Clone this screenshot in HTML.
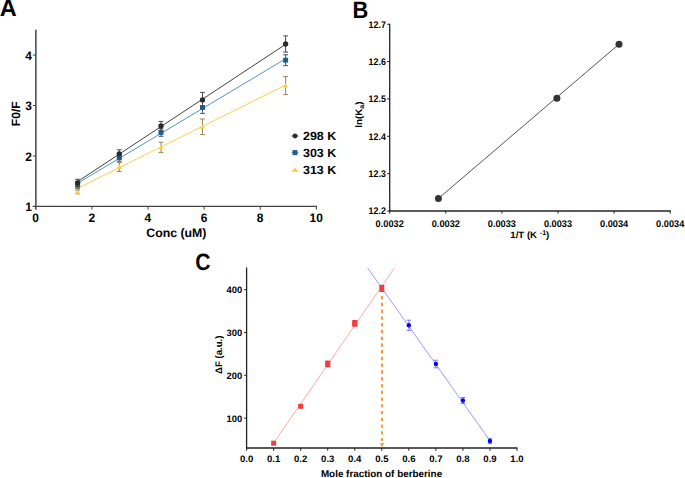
<!DOCTYPE html>
<html><head><meta charset="utf-8"><style>
html,body{margin:0;padding:0;background:#fff;}
svg{display:block;}
text{font-family:"Liberation Sans", sans-serif;text-rendering:geometricPrecision;}
</style></head><body>
<svg width="685" height="478" viewBox="0 0 685 478" font-family='"Liberation Sans", sans-serif'>
<rect width="685" height="478" fill="#fff"/>
<text transform="translate(-0.30,15.70)" font-size="23.5" text-anchor="start" font-weight="bold" fill="#000">A</text>
<line x1="35.85" y1="29.82" x2="35.85" y2="209.70" stroke="#444" stroke-width="1.5" />
<line x1="32.65" y1="206.40" x2="316.95" y2="206.40" stroke="#444" stroke-width="1.4" />
<line x1="32.85" y1="155.95" x2="35.85" y2="155.95" stroke="#444" stroke-width="1" />
<line x1="32.85" y1="105.50" x2="35.85" y2="105.50" stroke="#444" stroke-width="1" />
<line x1="32.85" y1="55.05" x2="35.85" y2="55.05" stroke="#444" stroke-width="1" />
<text transform="translate(31.80,211.10) scale(0.97,1.0)" font-size="12.3" text-anchor="end" font-weight="bold" fill="#000">1</text>
<text transform="translate(31.80,160.65) scale(0.97,1.0)" font-size="12.3" text-anchor="end" font-weight="bold" fill="#000">2</text>
<text transform="translate(31.80,110.20) scale(0.97,1.0)" font-size="12.3" text-anchor="end" font-weight="bold" fill="#000">3</text>
<text transform="translate(31.80,59.75) scale(0.97,1.0)" font-size="12.3" text-anchor="end" font-weight="bold" fill="#000">4</text>
<line x1="91.95" y1="206.40" x2="91.95" y2="209.70" stroke="#444" stroke-width="1" />
<line x1="148.05" y1="206.40" x2="148.05" y2="209.70" stroke="#444" stroke-width="1" />
<line x1="204.15" y1="206.40" x2="204.15" y2="209.70" stroke="#444" stroke-width="1" />
<line x1="260.25" y1="206.40" x2="260.25" y2="209.70" stroke="#444" stroke-width="1" />
<line x1="316.35" y1="206.40" x2="316.35" y2="209.70" stroke="#444" stroke-width="1" />
<text transform="translate(35.65,221.60) scale(0.97,1.0)" font-size="12.3" text-anchor="middle" font-weight="bold" fill="#000">0</text>
<text transform="translate(91.75,221.60) scale(0.97,1.0)" font-size="12.3" text-anchor="middle" font-weight="bold" fill="#000">2</text>
<text transform="translate(147.85,221.60) scale(0.97,1.0)" font-size="12.3" text-anchor="middle" font-weight="bold" fill="#000">4</text>
<text transform="translate(203.95,221.60) scale(0.97,1.0)" font-size="12.3" text-anchor="middle" font-weight="bold" fill="#000">6</text>
<text transform="translate(260.05,221.60) scale(0.97,1.0)" font-size="12.3" text-anchor="middle" font-weight="bold" fill="#000">8</text>
<text transform="translate(316.15,221.60) scale(0.97,1.0)" font-size="12.3" text-anchor="middle" font-weight="bold" fill="#000">10</text>
<text transform="translate(176.40,237.20)" font-size="12.3" text-anchor="middle" font-weight="bold" fill="#000">Conc (uM)</text>
<text transform="translate(19.70,113.80) rotate(-90)" font-size="12.0" text-anchor="middle" font-weight="bold" fill="#000">F0/F</text>
<line x1="77.60" y1="188.40" x2="285.60" y2="85.00" stroke="#ffcf4a" stroke-width="1" />
<line x1="77.60" y1="183.30" x2="285.60" y2="58.80" stroke="#5a91c4" stroke-width="1" />
<line x1="77.60" y1="181.60" x2="285.60" y2="44.30" stroke="#404040" stroke-width="1" />
<line x1="77.60" y1="190.20" x2="77.60" y2="193.80" stroke="#9a8656" stroke-width="1" />
<line x1="75.20" y1="190.20" x2="80.00" y2="190.20" stroke="#9a8656" stroke-width="1" />
<line x1="75.20" y1="193.80" x2="80.00" y2="193.80" stroke="#9a8656" stroke-width="1" />
<polygon points="77.60,189.60 80.30,193.70 74.90,193.70" fill="#ffcd46"/>
<line x1="77.60" y1="181.80" x2="77.60" y2="188.80" stroke="#3a5468" stroke-width="1" />
<line x1="75.20" y1="181.80" x2="80.00" y2="181.80" stroke="#3a5468" stroke-width="1" />
<line x1="75.20" y1="188.80" x2="80.00" y2="188.80" stroke="#3a5468" stroke-width="1" />
<rect x="75.10" y="182.90" width="5" height="4.8" fill="#1a5f96"/>
<line x1="77.60" y1="179.30" x2="77.60" y2="186.50" stroke="#4a4a4a" stroke-width="1" />
<line x1="75.20" y1="179.30" x2="80.00" y2="179.30" stroke="#4a4a4a" stroke-width="1" />
<line x1="75.20" y1="186.50" x2="80.00" y2="186.50" stroke="#4a4a4a" stroke-width="1" />
<circle cx="77.60" cy="182.90" r="2.65" fill="#2b2b2b"/>
<line x1="119.30" y1="162.50" x2="119.30" y2="171.50" stroke="#9a8656" stroke-width="1" />
<line x1="116.90" y1="162.50" x2="121.70" y2="162.50" stroke="#9a8656" stroke-width="1" />
<line x1="116.90" y1="171.50" x2="121.70" y2="171.50" stroke="#9a8656" stroke-width="1" />
<polygon points="119.30,164.60 122.00,168.70 116.60,168.70" fill="#ffcd46"/>
<line x1="119.30" y1="154.20" x2="119.30" y2="161.20" stroke="#3a5468" stroke-width="1" />
<line x1="116.90" y1="154.20" x2="121.70" y2="154.20" stroke="#3a5468" stroke-width="1" />
<line x1="116.90" y1="161.20" x2="121.70" y2="161.20" stroke="#3a5468" stroke-width="1" />
<rect x="116.80" y="155.30" width="5" height="4.8" fill="#1a5f96"/>
<line x1="119.30" y1="149.80" x2="119.30" y2="157.80" stroke="#4a4a4a" stroke-width="1" />
<line x1="116.90" y1="149.80" x2="121.70" y2="149.80" stroke="#4a4a4a" stroke-width="1" />
<line x1="116.90" y1="157.80" x2="121.70" y2="157.80" stroke="#4a4a4a" stroke-width="1" />
<circle cx="119.30" cy="153.80" r="2.65" fill="#2b2b2b"/>
<line x1="161.00" y1="142.20" x2="161.00" y2="152.60" stroke="#9a8656" stroke-width="1" />
<line x1="158.60" y1="142.20" x2="163.40" y2="142.20" stroke="#9a8656" stroke-width="1" />
<line x1="158.60" y1="152.60" x2="163.40" y2="152.60" stroke="#9a8656" stroke-width="1" />
<polygon points="161.00,145.00 163.70,149.10 158.30,149.10" fill="#ffcd46"/>
<line x1="161.00" y1="128.70" x2="161.00" y2="136.30" stroke="#3a5468" stroke-width="1" />
<line x1="158.60" y1="128.70" x2="163.40" y2="128.70" stroke="#3a5468" stroke-width="1" />
<line x1="158.60" y1="136.30" x2="163.40" y2="136.30" stroke="#3a5468" stroke-width="1" />
<rect x="158.50" y="130.10" width="5" height="4.8" fill="#1a5f96"/>
<line x1="161.00" y1="121.40" x2="161.00" y2="130.40" stroke="#4a4a4a" stroke-width="1" />
<line x1="158.60" y1="121.40" x2="163.40" y2="121.40" stroke="#4a4a4a" stroke-width="1" />
<line x1="158.60" y1="130.40" x2="163.40" y2="130.40" stroke="#4a4a4a" stroke-width="1" />
<circle cx="161.00" cy="125.90" r="2.65" fill="#2b2b2b"/>
<line x1="202.50" y1="119.00" x2="202.50" y2="134.60" stroke="#9a8656" stroke-width="1" />
<line x1="200.10" y1="119.00" x2="204.90" y2="119.00" stroke="#9a8656" stroke-width="1" />
<line x1="200.10" y1="134.60" x2="204.90" y2="134.60" stroke="#9a8656" stroke-width="1" />
<polygon points="202.50,124.40 205.20,128.50 199.80,128.50" fill="#ffcd46"/>
<line x1="202.50" y1="101.60" x2="202.50" y2="113.40" stroke="#3a5468" stroke-width="1" />
<line x1="200.10" y1="101.60" x2="204.90" y2="101.60" stroke="#3a5468" stroke-width="1" />
<line x1="200.10" y1="113.40" x2="204.90" y2="113.40" stroke="#3a5468" stroke-width="1" />
<rect x="200.00" y="105.10" width="5" height="4.8" fill="#1a5f96"/>
<line x1="202.50" y1="92.40" x2="202.50" y2="107.20" stroke="#4a4a4a" stroke-width="1" />
<line x1="200.10" y1="92.40" x2="204.90" y2="92.40" stroke="#4a4a4a" stroke-width="1" />
<line x1="200.10" y1="107.20" x2="204.90" y2="107.20" stroke="#4a4a4a" stroke-width="1" />
<circle cx="202.50" cy="99.80" r="2.65" fill="#2b2b2b"/>
<line x1="285.60" y1="76.60" x2="285.60" y2="94.60" stroke="#9a8656" stroke-width="1" />
<line x1="283.20" y1="76.60" x2="288.00" y2="76.60" stroke="#9a8656" stroke-width="1" />
<line x1="283.20" y1="94.60" x2="288.00" y2="94.60" stroke="#9a8656" stroke-width="1" />
<polygon points="285.60,83.20 288.30,87.30 282.90,87.30" fill="#ffcd46"/>
<line x1="285.60" y1="54.80" x2="285.60" y2="65.60" stroke="#3a5468" stroke-width="1" />
<line x1="283.20" y1="54.80" x2="288.00" y2="54.80" stroke="#3a5468" stroke-width="1" />
<line x1="283.20" y1="65.60" x2="288.00" y2="65.60" stroke="#3a5468" stroke-width="1" />
<rect x="283.10" y="57.80" width="5" height="4.8" fill="#1a5f96"/>
<line x1="285.60" y1="35.90" x2="285.60" y2="52.10" stroke="#4a4a4a" stroke-width="1" />
<line x1="283.20" y1="35.90" x2="288.00" y2="35.90" stroke="#4a4a4a" stroke-width="1" />
<line x1="283.20" y1="52.10" x2="288.00" y2="52.10" stroke="#4a4a4a" stroke-width="1" />
<circle cx="285.60" cy="44.00" r="2.65" fill="#2b2b2b"/>
<line x1="291.50" y1="136.00" x2="298.50" y2="136.00" stroke="#333" stroke-width="1" />
<circle cx="295.0" cy="136.0" r="2.4" fill="#2b2b2b"/>
<line x1="291.50" y1="152.60" x2="298.50" y2="152.60" stroke="#5a91c4" stroke-width="1" />
<rect x="292.5" y="150.1" width="5" height="5" fill="#1f5d94"/>
<line x1="291.50" y1="170.80" x2="298.50" y2="170.80" stroke="#ffcc45" stroke-width="1" />
<polygon points="295.0,167.6 297.8,171.8 292.2,171.8" fill="#ffc83c"/>
<text transform="translate(303.00,140.10) scale(1.055,1.0)" font-size="11.8" text-anchor="start" font-weight="bold" fill="#000">298 K</text>
<text transform="translate(303.00,156.70) scale(1.055,1.0)" font-size="11.8" text-anchor="start" font-weight="bold" fill="#000">303 K</text>
<text transform="translate(303.00,174.10) scale(1.055,1.0)" font-size="11.8" text-anchor="start" font-weight="bold" fill="#000">313 K</text>
<text transform="translate(352.60,17.50) scale(0.93,1.0)" font-size="23.5" text-anchor="start" font-weight="bold" fill="#000">B</text>
<line x1="389.70" y1="23.85" x2="389.70" y2="211.60" stroke="#222" stroke-width="1.3" />
<line x1="389.10" y1="211.00" x2="670.70" y2="211.00" stroke="#222" stroke-width="1.3" />
<line x1="387.10" y1="211.00" x2="389.70" y2="211.00" stroke="#222" stroke-width="1" />
<text transform="translate(385.80,214.30) scale(0.92,1.0)" font-size="9.6" text-anchor="end" font-weight="bold" fill="#000">12.2</text>
<line x1="387.10" y1="173.65" x2="389.70" y2="173.65" stroke="#222" stroke-width="1" />
<text transform="translate(385.80,176.95) scale(0.92,1.0)" font-size="9.6" text-anchor="end" font-weight="bold" fill="#000">12.3</text>
<line x1="387.10" y1="136.30" x2="389.70" y2="136.30" stroke="#222" stroke-width="1" />
<text transform="translate(385.80,139.60) scale(0.92,1.0)" font-size="9.6" text-anchor="end" font-weight="bold" fill="#000">12.4</text>
<line x1="387.10" y1="98.95" x2="389.70" y2="98.95" stroke="#222" stroke-width="1" />
<text transform="translate(385.80,102.25) scale(0.92,1.0)" font-size="9.6" text-anchor="end" font-weight="bold" fill="#000">12.5</text>
<line x1="387.10" y1="61.60" x2="389.70" y2="61.60" stroke="#222" stroke-width="1" />
<text transform="translate(385.80,64.90) scale(0.92,1.0)" font-size="9.6" text-anchor="end" font-weight="bold" fill="#000">12.6</text>
<line x1="387.10" y1="24.25" x2="389.70" y2="24.25" stroke="#222" stroke-width="1" />
<text transform="translate(385.80,27.55) scale(0.92,1.0)" font-size="9.6" text-anchor="end" font-weight="bold" fill="#000">12.7</text>
<line x1="389.70" y1="211.00" x2="389.70" y2="213.60" stroke="#222" stroke-width="1" />
<text transform="translate(389.70,226.90) scale(0.96,1.0)" font-size="9.6" text-anchor="middle" font-weight="bold" fill="#000">0.0032</text>
<line x1="445.80" y1="211.00" x2="445.80" y2="213.60" stroke="#222" stroke-width="1" />
<text transform="translate(445.80,226.90) scale(0.96,1.0)" font-size="9.6" text-anchor="middle" font-weight="bold" fill="#000">0.0032</text>
<line x1="501.90" y1="211.00" x2="501.90" y2="213.60" stroke="#222" stroke-width="1" />
<text transform="translate(501.90,226.90) scale(0.96,1.0)" font-size="9.6" text-anchor="middle" font-weight="bold" fill="#000">0.0033</text>
<line x1="558.00" y1="211.00" x2="558.00" y2="213.60" stroke="#222" stroke-width="1" />
<text transform="translate(558.00,226.90) scale(0.96,1.0)" font-size="9.6" text-anchor="middle" font-weight="bold" fill="#000">0.0033</text>
<line x1="614.10" y1="211.00" x2="614.10" y2="213.60" stroke="#222" stroke-width="1" />
<text transform="translate(614.10,226.90) scale(0.96,1.0)" font-size="9.6" text-anchor="middle" font-weight="bold" fill="#000">0.0034</text>
<line x1="670.20" y1="211.00" x2="670.20" y2="213.60" stroke="#222" stroke-width="1" />
<text transform="translate(670.20,226.90) scale(0.96,1.0)" font-size="9.6" text-anchor="middle" font-weight="bold" fill="#000">0.0034</text>
<text transform="translate(529.8,238.2) scale(1.05,1)" font-size="9.2" text-anchor="middle" font-weight="bold">1/T (K <tspan font-size="6.8" dy="-3.1">-1</tspan><tspan dy="3.1">)</tspan></text>
<text transform="translate(361.6,114.6) rotate(-90) scale(1.05,1)" font-size="9.4" text-anchor="middle" font-weight="bold">ln(K<tspan font-size="6.8" dy="2">a</tspan><tspan dy="-2">)</tspan></text>
<line x1="438.40" y1="198.50" x2="619.00" y2="44.20" stroke="#555" stroke-width="1" />
<circle cx="438.4" cy="198.5" r="3.5" fill="#333"/>
<circle cx="556.9" cy="98.3" r="3.5" fill="#333"/>
<circle cx="619.0" cy="44.2" r="3.5" fill="#333"/>
<text transform="translate(195.20,269.70) scale(0.9,1.0)" font-size="23.5" text-anchor="start" font-weight="bold" fill="#000">C</text>
<line x1="246.60" y1="267.40" x2="246.60" y2="448.60" stroke="#222" stroke-width="1.3" />
<line x1="246.00" y1="448.00" x2="517.50" y2="448.00" stroke="#222" stroke-width="1.5" />
<line x1="244.10" y1="418.10" x2="246.60" y2="418.10" stroke="#222" stroke-width="1" />
<text transform="translate(242.20,421.50)" font-size="9.4" text-anchor="end" font-weight="bold" fill="#000">100</text>
<line x1="244.10" y1="375.30" x2="246.60" y2="375.30" stroke="#222" stroke-width="1" />
<text transform="translate(242.20,378.70)" font-size="9.4" text-anchor="end" font-weight="bold" fill="#000">200</text>
<line x1="244.10" y1="332.50" x2="246.60" y2="332.50" stroke="#222" stroke-width="1" />
<text transform="translate(242.20,335.90)" font-size="9.4" text-anchor="end" font-weight="bold" fill="#000">300</text>
<line x1="244.10" y1="289.70" x2="246.60" y2="289.70" stroke="#222" stroke-width="1" />
<text transform="translate(242.20,293.10)" font-size="9.4" text-anchor="end" font-weight="bold" fill="#000">400</text>
<line x1="246.60" y1="448.00" x2="246.60" y2="450.80" stroke="#222" stroke-width="1" />
<text transform="translate(246.60,462.40) scale(1.02,1.0)" font-size="9.4" text-anchor="middle" font-weight="bold" fill="#000">0.0</text>
<line x1="273.64" y1="448.00" x2="273.64" y2="450.80" stroke="#222" stroke-width="1" />
<text transform="translate(273.64,462.40) scale(1.02,1.0)" font-size="9.4" text-anchor="middle" font-weight="bold" fill="#000">0.1</text>
<line x1="300.68" y1="448.00" x2="300.68" y2="450.80" stroke="#222" stroke-width="1" />
<text transform="translate(300.68,462.40) scale(1.02,1.0)" font-size="9.4" text-anchor="middle" font-weight="bold" fill="#000">0.2</text>
<line x1="327.72" y1="448.00" x2="327.72" y2="450.80" stroke="#222" stroke-width="1" />
<text transform="translate(327.72,462.40) scale(1.02,1.0)" font-size="9.4" text-anchor="middle" font-weight="bold" fill="#000">0.3</text>
<line x1="354.76" y1="448.00" x2="354.76" y2="450.80" stroke="#222" stroke-width="1" />
<text transform="translate(354.76,462.40) scale(1.02,1.0)" font-size="9.4" text-anchor="middle" font-weight="bold" fill="#000">0.4</text>
<line x1="381.80" y1="448.00" x2="381.80" y2="450.80" stroke="#222" stroke-width="1" />
<text transform="translate(381.80,462.40) scale(1.02,1.0)" font-size="9.4" text-anchor="middle" font-weight="bold" fill="#000">0.5</text>
<line x1="408.84" y1="448.00" x2="408.84" y2="450.80" stroke="#222" stroke-width="1" />
<text transform="translate(408.84,462.40) scale(1.02,1.0)" font-size="9.4" text-anchor="middle" font-weight="bold" fill="#000">0.6</text>
<line x1="435.88" y1="448.00" x2="435.88" y2="450.80" stroke="#222" stroke-width="1" />
<text transform="translate(435.88,462.40) scale(1.02,1.0)" font-size="9.4" text-anchor="middle" font-weight="bold" fill="#000">0.7</text>
<line x1="462.92" y1="448.00" x2="462.92" y2="450.80" stroke="#222" stroke-width="1" />
<text transform="translate(462.92,462.40) scale(1.02,1.0)" font-size="9.4" text-anchor="middle" font-weight="bold" fill="#000">0.8</text>
<line x1="489.96" y1="448.00" x2="489.96" y2="450.80" stroke="#222" stroke-width="1" />
<text transform="translate(489.96,462.40) scale(1.02,1.0)" font-size="9.4" text-anchor="middle" font-weight="bold" fill="#000">0.9</text>
<line x1="517.00" y1="448.00" x2="517.00" y2="450.80" stroke="#222" stroke-width="1" />
<text transform="translate(517.00,462.40) scale(1.02,1.0)" font-size="9.4" text-anchor="middle" font-weight="bold" fill="#000">1.0</text>
<text transform="translate(381.50,477.40)" font-size="9.9" text-anchor="middle" font-weight="bold" fill="#000">Mole fraction of berberine</text>
<text transform="translate(221.80,354.80) rotate(-90)" font-size="9.6" text-anchor="middle" font-weight="bold" fill="#000">ΔF (a.u.)</text>
<line x1="273.50" y1="443.20" x2="394.40" y2="268.00" stroke="#ff9f9f" stroke-width="0.9" />
<line x1="367.60" y1="268.00" x2="490.10" y2="441.00" stroke="#8f8fff" stroke-width="0.9" />
<line x1="381.95" y1="296.00" x2="381.95" y2="443.50" stroke="#f99b45" stroke-width="2.1" stroke-dasharray="3.4 3.36"/>
<polygon points="379.9,443 384.1,443 382,447.4" fill="#f99b45"/>
<line x1="381.80" y1="285.35" x2="381.80" y2="291.35" stroke="#6040a0" stroke-width="1" />
<line x1="379.30" y1="285.35" x2="384.30" y2="285.35" stroke="#6040a0" stroke-width="1" />
<line x1="379.30" y1="291.35" x2="384.30" y2="291.35" stroke="#6040a0" stroke-width="1" />
<rect x="271.14" y="440.70" width="5" height="5" fill="#f63c41"/>
<rect x="298.18" y="403.80" width="5" height="5" fill="#f63c41"/>
<line x1="327.72" y1="360.60" x2="327.72" y2="367.20" stroke="#f63c41" stroke-width="1" />
<rect x="325.22" y="360.60" width="5" height="6.60" fill="#f63c41"/>
<rect x="325.22" y="361.40" width="5" height="5" fill="#f63c41"/>
<line x1="354.76" y1="319.95" x2="354.76" y2="326.75" stroke="#f63c41" stroke-width="1" />
<rect x="352.26" y="319.95" width="5" height="6.80" fill="#f63c41"/>
<rect x="352.26" y="320.85" width="5" height="5" fill="#f63c41"/>
<rect x="379.30" y="285.85" width="5" height="5" fill="#f63c41"/>
<line x1="408.84" y1="320.20" x2="408.84" y2="330.40" stroke="#7a7aff" stroke-width="1" />
<line x1="406.54" y1="320.20" x2="411.14" y2="320.20" stroke="#7a7aff" stroke-width="1" />
<line x1="406.54" y1="330.40" x2="411.14" y2="330.40" stroke="#7a7aff" stroke-width="1" />
<circle cx="408.84" cy="325.30" r="2.2" fill="#0000ff"/>
<line x1="435.88" y1="360.20" x2="435.88" y2="367.80" stroke="#7a7aff" stroke-width="1" />
<line x1="433.58" y1="360.20" x2="438.18" y2="360.20" stroke="#7a7aff" stroke-width="1" />
<line x1="433.58" y1="367.80" x2="438.18" y2="367.80" stroke="#7a7aff" stroke-width="1" />
<circle cx="435.88" cy="364.00" r="2.2" fill="#0000ff"/>
<line x1="462.92" y1="397.50" x2="462.92" y2="403.50" stroke="#7a7aff" stroke-width="1" />
<line x1="460.62" y1="397.50" x2="465.22" y2="397.50" stroke="#7a7aff" stroke-width="1" />
<line x1="460.62" y1="403.50" x2="465.22" y2="403.50" stroke="#7a7aff" stroke-width="1" />
<circle cx="462.92" cy="400.50" r="2.2" fill="#0000ff"/>
<line x1="489.96" y1="438.40" x2="489.96" y2="443.60" stroke="#7a7aff" stroke-width="1" />
<line x1="487.66" y1="438.40" x2="492.26" y2="438.40" stroke="#7a7aff" stroke-width="1" />
<line x1="487.66" y1="443.60" x2="492.26" y2="443.60" stroke="#7a7aff" stroke-width="1" />
<circle cx="489.96" cy="441.00" r="2.2" fill="#0000ff"/>
</svg>
</body></html>
